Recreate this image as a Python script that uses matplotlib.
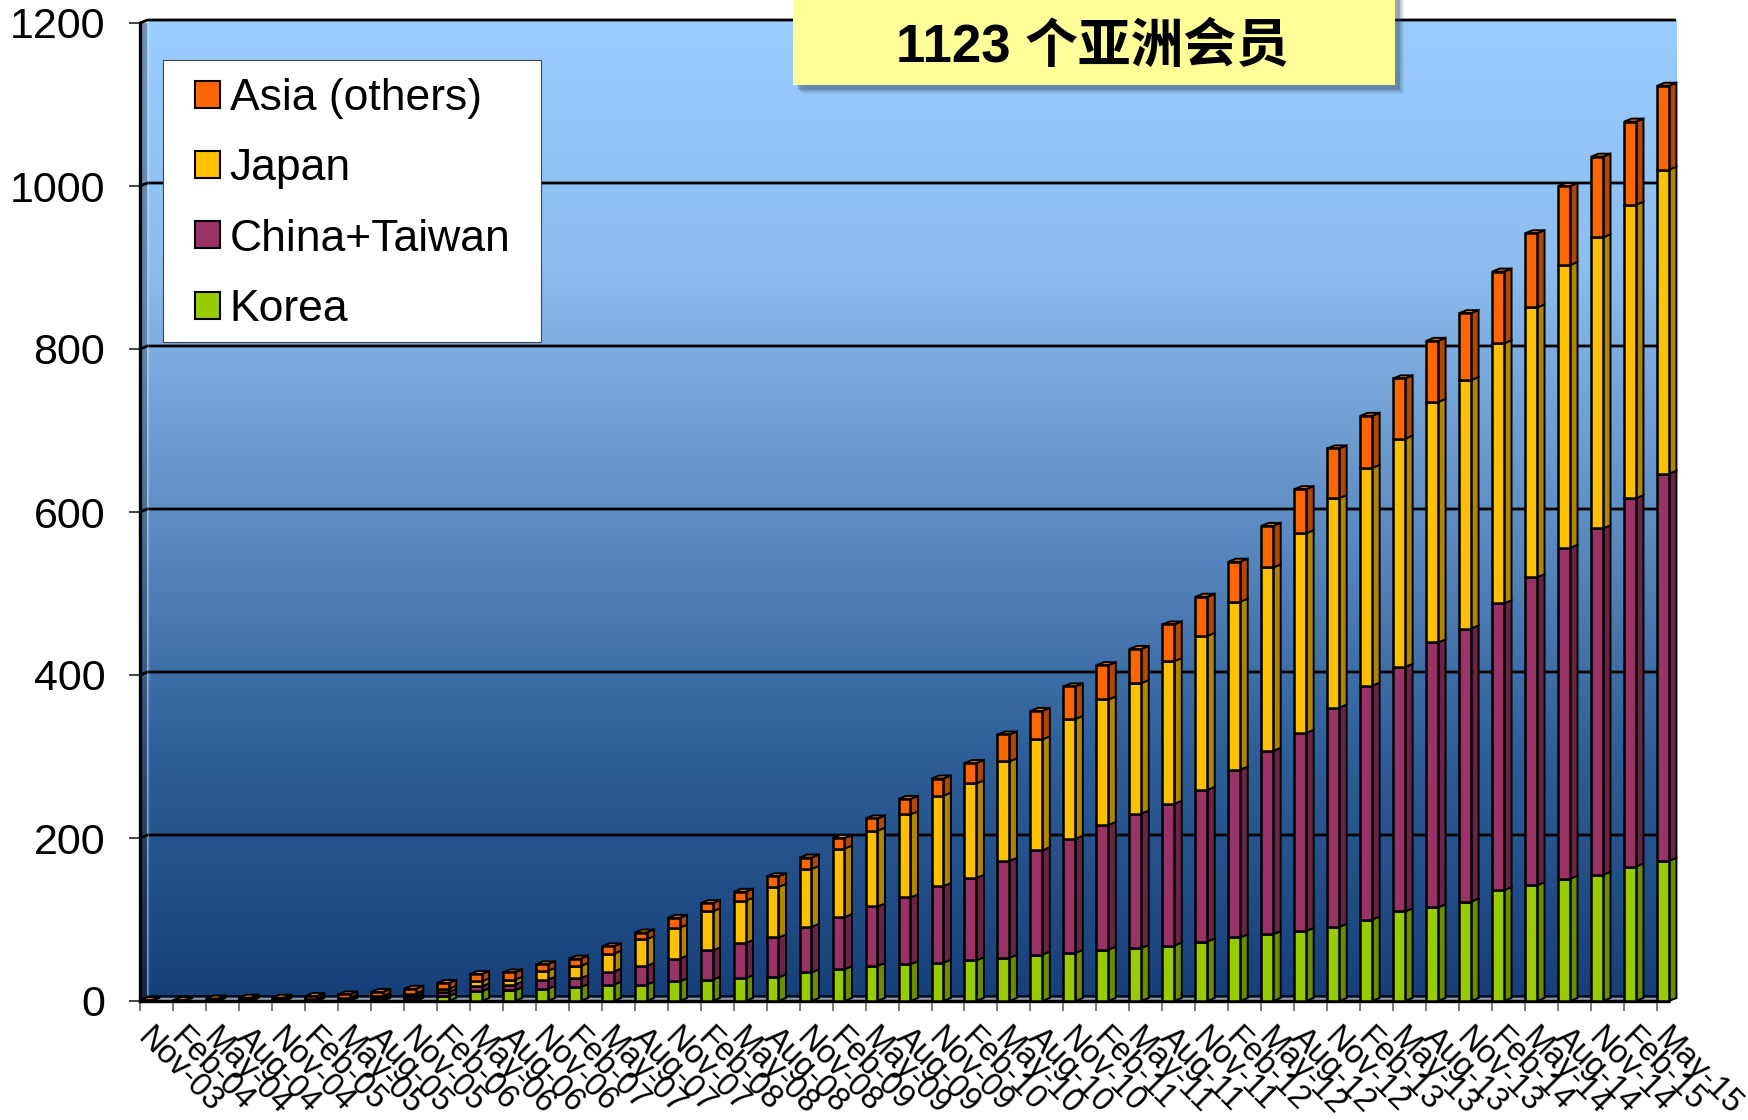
import numpy as np
import matplotlib
matplotlib.use("Agg")
import matplotlib.pyplot as plt
from matplotlib.patches import Patch, Polygon, Rectangle
from matplotlib.colors import LinearSegmentedColormap
from matplotlib.transforms import ScaledTranslation

labels = ["Nov-03", "Feb-04", "May-04", "Aug-04", "Nov-04", "Feb-05", "May-05", "Aug-05",
          "Nov-05", "Feb-06", "May-06", "Aug-06", "Nov-06", "Feb-07", "May-07", "Aug-07",
          "Nov-07", "Feb-08", "May-08", "Aug-08", "Nov-08", "Feb-09", "May-09", "Aug-09",
          "Nov-09", "Feb-10", "May-10", "Aug-10", "Nov-10", "Feb-11", "May-11", "Aug-11",
          "Nov-11", "Feb-12", "May-12", "Aug-12", "Nov-12", "Feb-13", "May-13", "Aug-13",
          "Nov-13", "Feb-14", "May-14", "Aug-14", "Nov-14", "Feb-15", "May-15"]

korea = [0, 0, 0, 0, 0, 0, 0, 1, 3, 6, 12, 13, 15, 17, 20, 20, 24, 26, 28, 29, 35, 39, 43, 45,
         47, 50, 53, 57, 59, 63, 65, 68, 73, 78, 82, 86, 91, 100, 110, 115, 122, 136, 142, 150,
         155, 165, 172]
china = [0, 0, 1, 1, 1, 2, 2, 3, 3, 5, 6, 7, 11, 11, 16, 23, 28, 36, 43, 49, 56, 64, 73, 82,
         94, 101, 119, 128, 140, 153, 165, 174, 186, 206, 225, 243, 269, 287, 300, 325, 335,
         352, 378, 406, 425, 452, 475]
japan = [0, 0, 0, 1, 1, 1, 2, 2, 3, 4, 6, 6, 11, 15, 22, 33, 38, 48, 52, 62, 71, 84, 93, 102,
         111, 116, 122, 136, 147, 154, 160, 175, 189, 206, 225, 245, 257, 267, 280, 295, 305,
         319, 331, 347, 357, 360, 373]
others = [1, 1, 2, 2, 2, 3, 4, 5, 6, 7, 9, 9, 8, 9, 9, 8, 12, 10, 11, 13, 14, 13, 15, 19,
          21, 25, 33, 35, 40, 42, 42, 45, 48, 49, 51, 54, 61, 64, 74, 75, 82, 88, 91, 97, 99,
          102, 103]

series = [korea, china, japan, others]
names = ["Korea", "China+Taiwan", "Japan", "Asia (others)"]
colors = ["#99CC00", "#993366", "#FFC000", "#FF6600"]
side_colors = ["#6B8E00", "#6B2447", "#B08600", "#B34700"]
yticks = [0, 200, 400, 600, 800, 1000, 1200]

plt.rcParams['font.family'] = ['Liberation Sans', 'Noto Sans CJK SC']

W, H = 1748, 1120
fig = plt.figure(figsize=(W / 100, H / 100), dpi=100)
# axes = front plane of the fake 3D chart
left, right, top, bottom = 140, 1676, 23, 1001
ax = fig.add_axes([left / W, 1 - bottom / H, (right - left) / W, (bottom - top) / H])
slot = 32.98
xmax = (right - left) / slot

# depth of the 3D effect in data units
dx = 7.5 / slot
dy = 3 / ((bottom - top) / 1200)

# back wall
wall = LinearSegmentedColormap.from_list("wall", ["#99CCFF", "#8DBDEE", "#5F8FC4", "#2F5F98", "#17407A"])
grad = np.linspace(0, 1, 256).reshape(-1, 1)
ax.imshow(grad, cmap=wall, aspect="auto", extent=(dx, xmax, dy, 1200 + dy), zorder=0, clip_on=False)

# left side wall, darker
side_wall = LinearSegmentedColormap.from_list("side", ["#6F93B8", "#5F83A8", "#3A5C85", "#0E2747"])
im = ax.imshow(grad, cmap=side_wall, aspect="auto", extent=(0, dx, 0, 1200 + dy), zorder=0)
clip = Polygon([(0, 0), (dx, dy), (dx, 1200 + dy), (0, 1200)], transform=ax.transData, fc="none", ec="none")
ax.add_patch(clip)
im.set_clip_path(clip)
ax.set_xlim(0, xmax)
ax.set_ylim(0, 1200)

# floor
ax.add_patch(Polygon([(0, 0), (dx, dy), (xmax, dy), (xmax - dx, 0)], fc="#9A9A9A", ec="none",
                     zorder=1, clip_on=False))

# gridlines on the wall with the little step on the side wall
for v in yticks[1:]:
    ax.plot([0, dx, xmax], [v, v + dy, v + dy], color="black", lw=2.0, zorder=1, clip_on=False,
            solid_capstyle="butt")
ax.plot([dx, xmax], [dy + 2, dy + 2], color="black", lw=1.2, zorder=1, clip_on=False)
ax.plot([dx, dx], [dy, 1200 + dy], color="white", lw=1.0, alpha=0.25, zorder=1)
ax.plot([0, 0], [0, 1200], color="black", lw=2.4, zorder=2, clip_on=False)
ax.plot([0, xmax - dx], [0, 0], color="black", lw=2.4, zorder=2, clip_on=False)

# stacked 3D bars
x = np.arange(len(labels))
bar_w = 0.36
base = np.zeros(len(labels))
for vals, name, c, cs in zip(series, names, colors, side_colors):
    vals = np.array(vals, dtype=float)
    ax.bar(x, vals, bar_w, bottom=base, align="edge", color=c, edgecolor="black", linewidth=1.8,
           zorder=4, label=name, clip_on=False)
    for xi, b, v in zip(x, base, vals):
        if v <= 0:
            continue
        ax.add_patch(Polygon([(xi + bar_w, b), (xi + bar_w + dx, b + dy), (xi + bar_w + dx, b + v + dy),
                              (xi + bar_w, b + v)], fc=cs, ec="black", lw=1.4, zorder=3.5, clip_on=False))
    base = base + vals
for xi, t in zip(x, base):
    ax.add_patch(Polygon([(xi, t), (xi + dx, t + dy), (xi + bar_w + dx, t + dy), (xi + bar_w, t)],
                         fc="#FF7A1A", ec="black", lw=1.4, zorder=3.6, clip_on=False))

# axes ticks
for s in ax.spines.values():
    s.set_visible(False)
ax.set_yticks(yticks)
ax.set_yticklabels([str(v) for v in yticks], fontsize=31)
ax.tick_params(axis="y", length=8, width=1.2, pad=17, color="#222222")
ax.set_xticks(x)
ax.set_xticklabels(labels, fontsize=23.5, rotation=-45, ha="left", va="top", rotation_mode="anchor")
ax.tick_params(axis="x", length=7, width=1.2, pad=8, color="#666666")
shift = ScaledTranslation(13 / 100, 0, fig.dpi_scale_trans)
for t in ax.get_xticklabels():
    t.set_transform(t.get_transform() + shift)

# legend box drawn on its own so its size matches, legend inside it
ax.add_patch(Rectangle(((163 - left) / slot, (bottom - 342) * 1200 / (bottom - top)),
                       378 / slot, 282 * 1200 / (bottom - top),
                       fc="white", ec="#444444", lw=0.8, zorder=5, clip_on=False))
handles = [Patch(fc=c, ec="black", lw=1.5) for c in colors[::-1]]
leg = ax.legend(handles, names[::-1], loc="upper left",
                bbox_to_anchor=((195 - left) / (right - left), (bottom - 78) / (bottom - top)),
                borderaxespad=0, fontsize=32, frameon=False,
                handlelength=0.56, handleheight=0.56, handletextpad=0.22, labelspacing=0.66, borderpad=0)
leg.set_zorder(6)

# yellow callout running off the top of the picture
bx0, bx1, by = 793, 1395, 85
for off, a in [(9, 0.10), (7, 0.18), (5, 0.28)]:
    fig.add_artist(Rectangle(((bx0 + off) / W, 1 - (by + off) / H), (bx1 - bx0) / W, (by + 20) / H,
                             transform=fig.transFigure, fc="#33415C", ec="none", alpha=a))
fig.add_artist(Rectangle((bx0 / W, 1 - by / H), (bx1 - bx0) / W, (by + 20) / H,
                         transform=fig.transFigure, fc="#FFFF99", ec="none"))
fig.text(1092 / W, 1 - 48 / H, "1123 个亚洲会员", fontsize=38, fontweight="bold", ha="center", va="center")

fig.savefig("out.png", dpi=100)
